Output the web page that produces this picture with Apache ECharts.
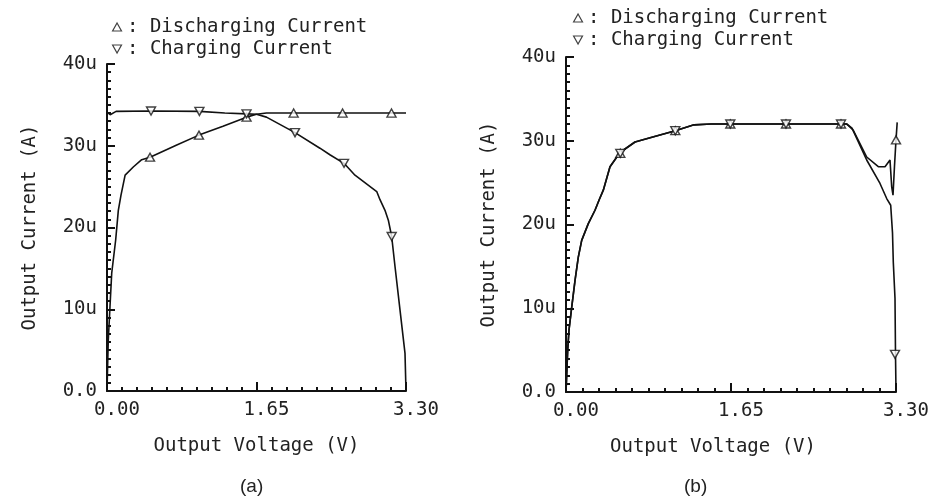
<!DOCTYPE html>
<html>
<head>
<meta charset="utf-8">
<title>Output Current vs Output Voltage</title>
<script src="https://cdn.jsdelivr.net/npm/echarts@6/dist/echarts.min.js"></script>
<style>
    html, body { margin: 0; padding: 0; background: #fff; }
    #main { width: 937px; height: 501px; }
</style>
</head>
<body>
<div id="main"></div>
<script>
// values, current in uA, voltage in V
var xTicks = [0, 1.65, 3.3];
var yTicks = [0, 10, 20, 30, 40];

// (a)
var dischargeA = [[0, 0], [0.014, 6.2], [0.033, 10.3], [0.052, 14.4], [0.096, 18.5], [0.125, 22.1], [0.155, 24.0],
    [0.2, 26.4], [0.29, 27.4], [0.383, 28.3], [0.475, 28.6], [0.77, 30.1], [1.015, 31.3], [1.28, 32.4],
    [1.54, 33.5], [1.65, 33.85], [1.76, 34.0], [2.06, 34.0], [2.6, 34.0], [3.146, 34.0], [3.3, 34.0]];
var chargeA = [[0, 34.1], [0.035, 33.8], [0.1, 34.2], [0.486, 34.25], [1.02, 34.2], [1.3, 34.0], [1.54, 33.9],
    [1.65, 33.85], [1.76, 33.5], [2.075, 31.6], [2.35, 29.7], [2.46, 28.9], [2.616, 27.85], [2.737, 26.4],
    [2.977, 24.4], [3.013, 23.4], [3.068, 22.1], [3.105, 20.9], [3.142, 18.9], [3.179, 15.2], [3.234, 9.9],
    [3.289, 4.6], [3.3, 0]];
var dischargeMarksA = [[0.475, 28.6], [1.015, 31.3], [1.54, 33.5], [2.06, 34.0], [2.6, 34.0], [3.14, 34.0]];
var chargeMarksA = [[0.486, 34.25], [1.02, 34.2], [1.54, 33.9], [2.075, 31.6], [2.616, 27.85], [3.142, 18.9]];

// (b)
var dischargeB = [[0, 0], [0.017, 5.0], [0.03, 7.4], [0.057, 10.1], [0.09, 13.3], [0.123, 16.1], [0.157, 18.1],
    [0.223, 20.1], [0.29, 21.7], [0.33, 22.9], [0.373, 24.1], [0.44, 26.9], [0.54, 28.6], [0.69, 29.85],
    [0.85, 30.4], [1.093, 31.2], [1.28, 31.9], [1.45, 32.0], [1.643, 32.0], [2.2, 32.0], [2.75, 32.0],
    [2.807, 32.0], [2.873, 31.25], [3.007, 28.06], [3.123, 26.9], [3.19, 26.9], [3.24, 27.7], [3.257, 24.5],
    [3.27, 23.5], [3.285, 27.0], [3.3, 30.1], [3.312, 32.2]];
var chargeB = [[0, 0], [0.017, 5.0], [0.03, 7.4], [0.057, 10.1], [0.09, 13.3], [0.123, 16.1], [0.157, 18.1],
    [0.223, 20.1], [0.29, 21.7], [0.33, 22.9], [0.373, 24.1], [0.44, 26.9], [0.54, 28.6], [0.69, 29.85],
    [0.85, 30.4], [1.093, 31.2], [1.28, 31.9], [1.45, 32.0], [1.643, 32.0], [2.2, 32.0], [2.75, 32.0],
    [2.807, 32.0], [2.86, 31.5], [3.007, 27.7], [3.14, 24.9], [3.207, 23.1], [3.247, 22.3], [3.265, 19.0],
    [3.273, 15.5], [3.29, 11.2], [3.295, 4.5], [3.3, 0]];
var dischargeMarksB = [[0.543, 28.5], [1.093, 31.2], [1.643, 32.0], [2.2, 32.0], [2.75, 32.0], [3.3, 30.1]];
var chargeMarksB = [[0.543, 28.5], [1.093, 31.2], [1.643, 32.0], [2.2, 32.0], [2.75, 32.0], [3.29, 4.5]];

var legendNames = ['Discharging Current', 'Charging Current'];
var captions = ['(a)', '(b)'];

var FONT = '"DejaVu Sans Mono", monospace';
var downTri = 'path://M0,0L10,0L5,9Z';
var upTri = 'path://M5,0L10,9L0,9Z';

function xAxisFor(grid, namePad) {
    return {
        type: 'value', gridIndex: grid, min: xTicks[0], max: xTicks[2], interval: xTicks[1],
        name: 'Output Voltage (V)', nameLocation: 'middle', nameGap: 46,
        nameTextStyle: { fontFamily: FONT, fontSize: 19, color: '#222', padding: namePad },
        axisLine: { lineStyle: { color: '#111', width: 2 } },
        axisTick: { show: true, inside: true, length: 9, lineStyle: { color: '#111', width: 2 } },
        minorTick: { show: true, splitNumber: 10, length: 4, lineStyle: { color: '#111', width: 2 } },
        splitLine: { show: false },
        axisLabel: {
            fontFamily: FONT, fontSize: 19, color: '#222', margin: 10, padding: [0, 0, 0, 20],
            showMinLabel: true, showMaxLabel: true,
            formatter: function (v) { return v.toFixed(2); }
        }
    };
}

function yAxisFor(grid) {
    return {
        type: 'value', gridIndex: grid, min: yTicks[0], max: yTicks[4], interval: 10,
        name: 'Output Current (A)', nameLocation: 'middle', nameGap: 67,
        nameTextStyle: { fontFamily: FONT, fontSize: 19, color: '#222' },
        axisLine: { show: true, lineStyle: { color: '#111', width: 2 } },
        axisTick: { show: true, inside: true, length: 8, lineStyle: { color: '#111', width: 2 } },
        minorTick: { show: true, splitNumber: 10, length: 4, lineStyle: { color: '#111', width: 2 } },
        splitLine: { show: false },
        axisLabel: {
            fontFamily: FONT, fontSize: 19, color: '#222', margin: 10, padding: [0, 0, 10, 0],
            formatter: function (v) { return v == 0 ? '0.0' : v + 'u'; }
        }
    };
}

function curve(name, data, grid) {
    return {
        name: name, type: 'line', xAxisIndex: grid, yAxisIndex: grid, data: data,
        showSymbol: false, clip: false, silent: true,
        lineStyle: { color: '#111', width: 1.6 }
    };
}

function marks(name, data, grid, up) {
    return {
        name: name, type: 'scatter', xAxisIndex: grid, yAxisIndex: grid, data: data, clip: false,
        symbol: up ? upTri : downTri, symbolSize: [9, 8],
        itemStyle: { color: '#fff', borderColor: '#111', borderWidth: 1.4 }, z: 5
    };
}

function legendFor(left, top) {
    return {
        orient: 'vertical', left: left, top: top, padding: 0, itemGap: 2, itemWidth: 10, itemHeight: 8,
        selectedMode: false,
        data: [{ name: legendNames[0], icon: upTri }, { name: legendNames[1], icon: downTri }],
        itemStyle: { color: '#fff', borderColor: '#111', borderWidth: 1.2 },
        textStyle: { fontFamily: FONT, fontSize: 19, color: '#222', lineHeight: 20 },
        formatter: function (n) { return ': ' + n; }
    };
}

var myChart = echarts.init(document.getElementById('main'));
var option = {
    backgroundColor: '#fff',
    animation: false,
    legend: [legendFor(112, 17), legendFor(573, 8)],
    grid: [
        { left: 107, top: 64, width: 299, height: 327 },
        { left: 566, top: 57, width: 330, height: 335 }
    ],
    xAxis: [xAxisFor(0, [0, 0, 0, 0]), xAxisFor(1, [0, 36, 0, 0])],
    yAxis: [yAxisFor(0), yAxisFor(1)],
    series: [
        curve('dischargeA', dischargeA, 0),
        curve('chargeA', chargeA, 0),
        marks(legendNames[0], dischargeMarksA, 0, true),
        marks(legendNames[1], chargeMarksA, 0, false),
        curve('dischargeB', dischargeB, 1),
        curve('chargeB', chargeB, 1),
        marks(legendNames[0], dischargeMarksB, 1, true),
        marks(legendNames[1], chargeMarksB, 1, false)
    ],
    graphic: [
        { type: 'text', left: 240, top: 477, style: { text: captions[0], font: '19px "Liberation Sans", sans-serif', fill: '#222' } },
        { type: 'text', left: 684, top: 477, style: { text: captions[1], font: '19px "Liberation Sans", sans-serif', fill: '#222' } }
    ]
};
myChart.setOption(option);
</script>
</body>
</html>
